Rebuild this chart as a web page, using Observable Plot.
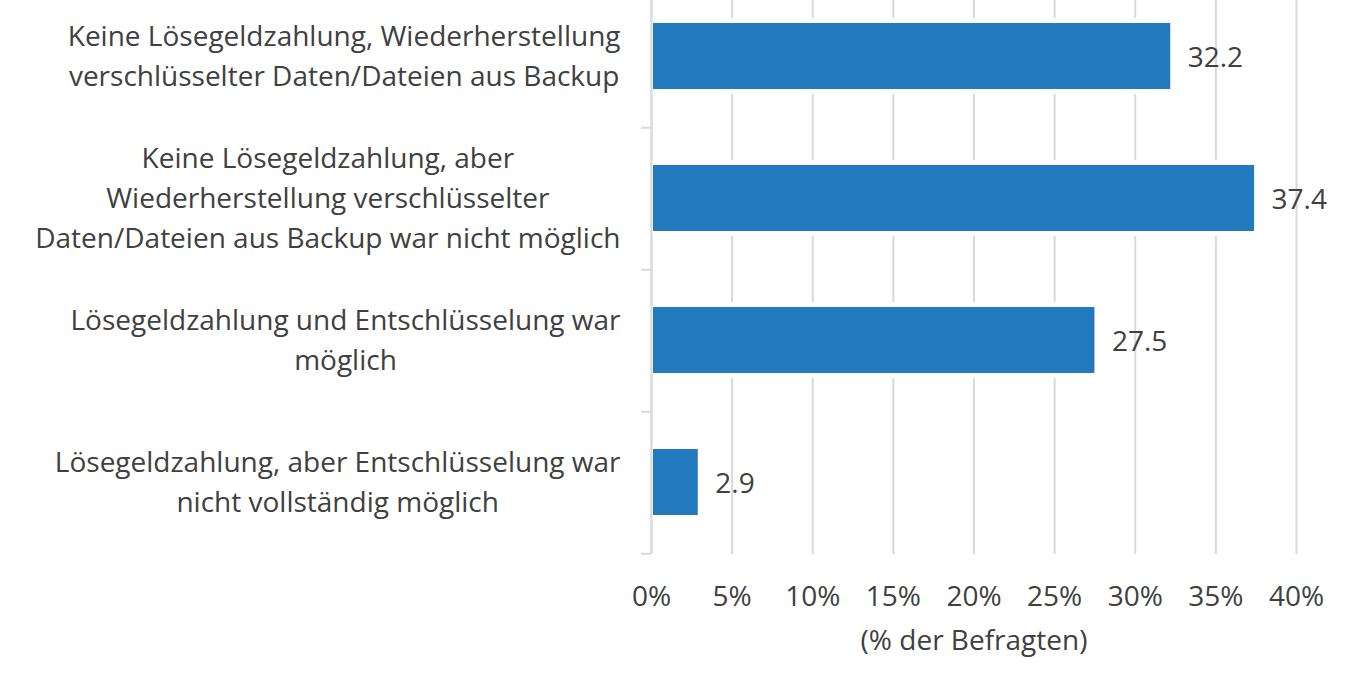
<!DOCTYPE html>
<html><head><meta charset="utf-8">
<script src="https://cdn.jsdelivr.net/npm/d3@7"></script>
<script src="https://cdn.jsdelivr.net/npm/@observablehq/plot@0.6"></script>
<style>html,body{margin:0;padding:0;background:#fff;}</style>
</head><body><div id="chart"></div>
<script>
const categories = [
  "Keine Lösegeldzahlung, Wiederherstellung\nverschlüsselter Daten/Dateien aus Backup",
  "Keine Lösegeldzahlung, aber\nWiederherstellung verschlüsselter\nDaten/Dateien aus Backup war nicht möglich",
  "Lösegeldzahlung und Entschlüsselung war\nmöglich",
  "Lösegeldzahlung, aber Entschlüsselung war\nnicht vollständig möglich"
];
const values = [32.2, 37.4, 27.5, 2.9];
const xTicks = [0, 5, 10, 15, 20, 25, 30, 35, 40];
const xLabel = "(% der Befragten)";

const data = categories.map((c, i) => ({category: c, value: values[i]}));

const W = 1356, H = 678;
const FONT = "Open Sans", FS = 28, FS_CAT = 28;
const TEXT = "#404040", GRID = "#d9d9d9", BAR = "#2379bd";
const yRange = [-16, 554];
const step = (yRange[1] - yRange[0]) / categories.length;

const ctx = document.createElement("canvas").getContext("2d");
ctx.font = `${FS_CAT}px "${FONT}"`;
const widest = s => d3.max(s.split("\n"), l => ctx.measureText(l).width);

const labelMarks = data.map(d => Plot.text([d], {
  x: () => 0, y: "category", text: "category",
  textAnchor: "middle", lineAnchor: "middle", lineHeight: 40 / FS_CAT,
  dx: -31 - widest(d.category) / 2, dy: -3,
  fill: TEXT, fontSize: FS_CAT
}));

const chart = Plot.plot({
  width: W, height: H,
  marginLeft: 651, marginRight: 60, marginTop: 0, marginBottom: H - yRange[1],
  style: {fontFamily: `"${FONT}", sans-serif`, fontSize: FS + "px", background: "#fff", overflow: "visible"},
  x: {domain: [0, 40], axis: null},
  y: {domain: categories, range: yRange, paddingInner: 0.533, paddingOuter: 0.2665, axis: null},
  marks: [
    Plot.ruleX(xTicks, {x: d => d, stroke: GRID, strokeWidth: 2}),
    Plot.barX(data, {x1: () => 0, x2: "value", y: "category", fill: "#fff",
      insetTop: -5, insetBottom: -5, insetRight: -5}),
    Plot.ruleX([0], {stroke: GRID, strokeWidth: 2}),
    Plot.ruleY(categories, {y: d => d, x1: () => 0, x2: () => 0, insetLeft: -10, dy: step / 2,
      stroke: GRID, strokeWidth: 2}),
    Plot.barX(data, {x1: () => 0, x2: "value", y: "category", fill: BAR, insetLeft: 2}),
    Plot.text(data, {x: "value", y: "category", text: d => d.value.toFixed(1),
      textAnchor: "start", dx: 17, dy: 2, fill: TEXT, fontSize: FS}),
    ...labelMarks,
    Plot.text(xTicks, {x: d => d, text: d => d + "%", frameAnchor: "bottom", lineAnchor: "middle", dy: 43,
      fill: TEXT, fontSize: FS}),
    Plot.text([xLabel], {text: d => d, frameAnchor: "bottom", lineAnchor: "middle", dy: 87,
      fill: TEXT, fontSize: FS})
  ]
});
document.getElementById("chart").append(chart);
</script>
</body></html>
